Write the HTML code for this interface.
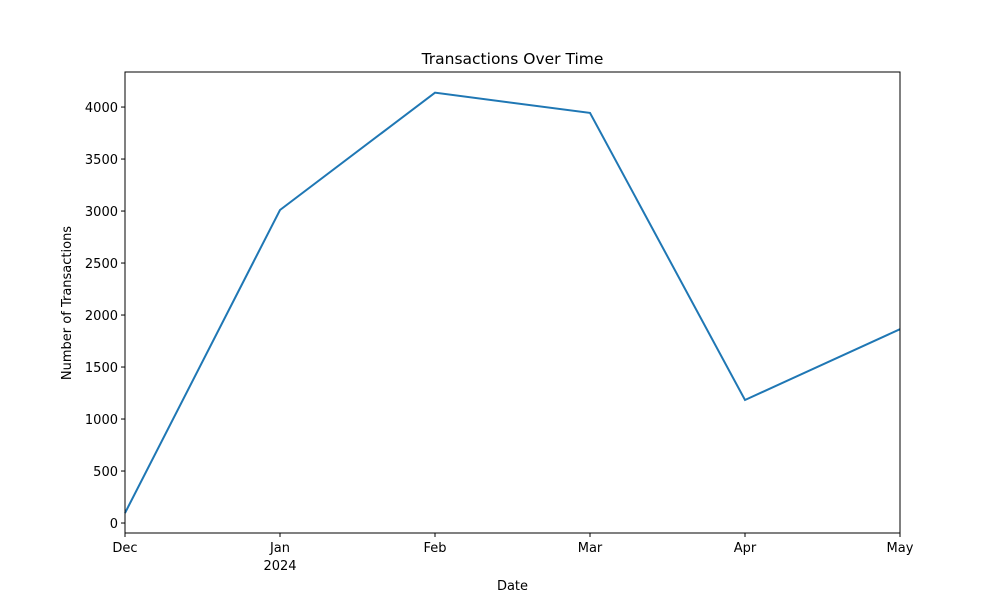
<!DOCTYPE html>
<html><head><meta charset="utf-8"><style>
body{margin:0;background:#fff;font-family:"Liberation Sans","DejaVu Sans",sans-serif;}
svg text{font-family:"DejaVu Sans","Liberation Sans",sans-serif;}
</style></head><body>
<svg id="chart" width="1000" height="600" xmlns="http://www.w3.org/2000/svg">
<rect width="1000" height="600" fill="#fff"/>
<g id="g"></g>
</svg>
<script>
const categories=["Dec","Jan","Feb","Mar","Apr","May"];
const subLabels=["","2024","","","",""];
const values=[96,3010,4138,3944,1183,1864];
const yTicks=[0,500,1000,1500,2000,2500,3000,3500,4000];
const L=125,R=900,T=72,B=533;
const yMin=-96,yMax=4337;
const x=i=>L+(R-L)*i/(categories.length-1);
const y=v=>B-(v-yMin)/(yMax-yMin)*(B-T);
const NS="http://www.w3.org/2000/svg";
const g=document.getElementById('g');
function mk(t,a,txt){const e=document.createElementNS(NS,t);for(const k in a)e.setAttribute(k,a[k]);if(txt!==undefined)e.textContent=txt;g.appendChild(e);return e;}
const pts=values.map((v,i)=>x(i)+','+y(v)).join(' ');
const line=mk('polyline',{points:pts,fill:'none',stroke:'#1f77b4','stroke-width':2});


const frame=mk('rect',{x:L,y:T,width:R-L,height:B-T,fill:'none',stroke:'#000','stroke-width':1});


yTicks.forEach(v=>{
 const yy=y(v);
 mk('line',{x1:L-4,x2:L,y1:yy,y2:yy,stroke:'#000'});
 const t=mk('text',{x:L-7,y:yy+5,'text-anchor':'end','font-size':13},v);
 
 
});
categories.forEach((c,i)=>{
 const xx=x(i);
 mk('line',{x1:xx,x2:xx,y1:B,y2:B+4,stroke:'#000'});
 const t=mk('text',{x:xx,y:B+19,'text-anchor':'middle','font-size':13},c);
 
 
 if(subLabels[i]){const s=mk('text',{x:xx,y:B+37,'text-anchor':'middle','font-size':13},subLabels[i]);
 
 }
});
const ti=mk('text',{x:512.5,y:64,'text-anchor':'middle','font-size':15.5},'Transactions Over Time');


const xl=mk('text',{x:512.5,y:590,'text-anchor':'middle','font-size':13},'Date');


const yl=mk('text',{x:0,y:0,'text-anchor':'middle','font-size':13,transform:'translate(71,303) rotate(-90)'},'Number of Transactions');


</script>
</body></html>
